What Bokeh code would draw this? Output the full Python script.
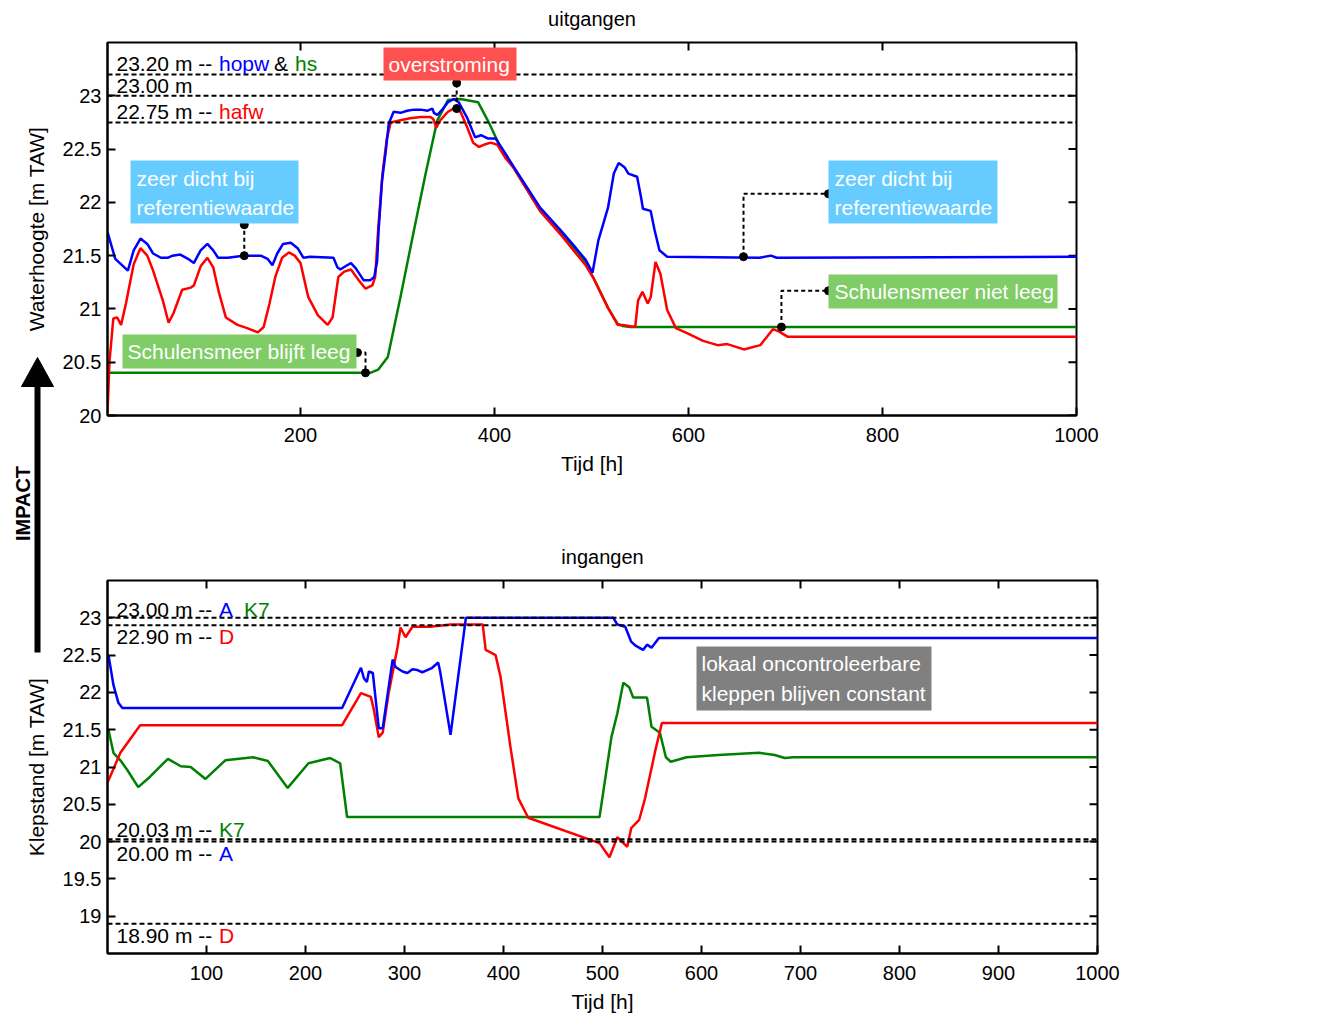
import math
from bokeh.plotting import figure
from bokeh.models import Span, Label, BoxAnnotation, FixedTicker, Range1d
from bokeh.core.properties import value
from bokeh.embed import file_html
from bokeh.resources import INLINE

FONT = "Liberation Sans"
BLUE, GREEN, RED = "#0000ff", "#008000", "#ff0000"

# ---------------- data: uitgangen (water levels) ----------------
hopw_t = [1, 9, 22, 28, 35, 42, 48, 56, 63, 68, 76, 84, 90, 97, 104, 110, 115, 125, 141, 159,
          166, 171, 176, 182, 190, 197, 203, 210, 234, 238, 241, 248, 252, 257, 265, 272, 276, 279, 280.5, 284,
          288, 291, 296, 303, 310, 317, 324, 331, 336, 337.5, 341, 347, 352, 358, 363, 372, 380, 386, 393, 401,
          409, 420, 447, 468, 484, 494, 501, 507, 517, 523, 528, 534, 538, 547, 551, 553, 561, 565, 570, 578,
          673, 685, 691, 1000]
hopw_h = [21.72, 21.47, 21.36, 21.55, 21.66, 21.61, 21.52, 21.48, 21.48, 21.50, 21.51, 21.47, 21.43, 21.55, 21.61, 21.55, 21.48, 21.48, 21.50, 21.50,
          21.47, 21.41, 21.52, 21.61, 21.62, 21.57, 21.48, 21.49, 21.48, 21.39, 21.37, 21.41, 21.43, 21.38, 21.27, 21.27, 21.30, 21.45, 21.74, 22.20,
          22.49, 22.74, 22.85, 22.84, 22.86, 22.87, 22.87, 22.86, 22.88, 22.84, 22.82, 22.88, 22.94, 22.97, 22.94, 22.79, 22.61, 22.63, 22.60, 22.60,
          22.49, 22.33, 21.95, 21.74, 21.57, 21.46, 21.34, 21.64, 21.95, 22.27, 22.37, 22.33, 22.27, 22.24, 22.05, 21.94, 21.92, 21.74, 21.55, 21.49,
          21.48, 21.50, 21.48, 21.49]

hs_t = [1, 272, 280, 290, 303, 317, 329, 341, 352, 365, 383, 393, 406, 420, 447, 468, 484, 494, 502, 517, 527, 532, 540, 1000]
hs_h = [20.40, 20.40, 20.43, 20.55, 21.11, 21.74, 22.27, 22.77, 22.96, 22.97, 22.94, 22.77, 22.52, 22.32, 21.92, 21.71, 21.54, 21.43, 21.29, 21.01, 20.86, 20.84, 20.83, 20.83]

hafw_t = [1, 3, 7, 11, 15, 20, 28, 35, 42, 48, 58, 64, 69, 78, 87, 90, 97, 104, 110, 116,
          123, 135, 145, 156, 162, 168, 174, 181, 188, 194, 200, 208, 218, 228, 233, 239, 245, 252, 260, 267,
          274, 277, 280, 284.5, 289, 293, 303, 313, 324, 334, 337, 340, 344, 352, 358, 365, 372, 378, 384, 389,
          396, 403, 411, 420, 447, 468, 484, 494, 502, 517, 527, 532, 545, 548, 552.5, 558, 561, 566, 571, 578,
          587, 599, 615, 630, 640, 657, 674, 687, 693, 702, 1000]
hafw_h = [20.02, 20.50, 20.91, 20.92, 20.85, 21.05, 21.42, 21.57, 21.50, 21.36, 21.08, 20.87, 20.96, 21.18, 21.20, 21.22, 21.40, 21.48, 21.39, 21.15,
          20.92, 20.85, 20.82, 20.78, 20.83, 21.05, 21.30, 21.48, 21.53, 21.50, 21.43, 21.11, 20.94, 20.85, 20.92, 21.30, 21.35, 21.37, 21.27, 21.19,
          21.22, 21.30, 21.74, 22.27, 22.60, 22.75, 22.77, 22.79, 22.80, 22.80, 22.78, 22.70, 22.77, 22.85, 22.88, 22.85, 22.70, 22.56, 22.52, 22.54,
          22.56, 22.54, 22.42, 22.32, 21.92, 21.70, 21.52, 21.41, 21.29, 21.01, 20.85, 20.85, 20.83, 21.08, 21.16, 21.05, 21.11, 21.44, 21.33, 20.99,
          20.82, 20.77, 20.70, 20.66, 20.67, 20.62, 20.66, 20.81, 20.79, 20.74, 20.74]

# ---------------- data: ingangen (valve positions) ----------------
klepA_t = [1, 6, 11, 15, 237, 256, 259, 262, 264, 268, 274, 278, 288, 291, 298, 303, 308, 313, 318, 323,
           328, 334, 336, 346.5, 362, 511, 515, 523, 529, 533, 537, 541, 545, 549.5, 557, 1000]
klepA_h = [22.50, 22.10, 21.86, 21.79, 21.79, 22.33, 22.19, 22.14, 22.28, 22.26, 21.52, 21.52, 22.44, 22.34, 22.28, 22.26, 22.31, 22.30, 22.27, 22.30,
           22.33, 22.40, 22.28, 21.43, 23.00, 23.00, 22.91, 22.88, 22.68, 22.63, 22.60, 22.57, 22.64, 22.60, 22.73, 22.73]

klepK7_t = [1, 6, 13, 20, 31, 43, 61, 74, 84, 99, 119, 147, 162, 182, 203, 225, 235, 242, 497, 509,
            515, 521, 527, 531, 545, 549.5, 558, 564, 569, 585, 617, 658, 674, 684, 693, 1000]
klepK7_h = [21.50, 21.19, 21.09, 20.96, 20.73, 20.87, 21.11, 21.01, 21.00, 20.84, 21.09, 21.13, 21.08, 20.72, 21.05, 21.12, 21.05, 20.33, 20.33, 21.40,
            21.72, 22.13, 22.07, 21.93, 21.93, 21.54, 21.46, 21.13, 21.07, 21.13, 21.16, 21.19, 21.16, 21.12, 21.13, 21.13]

klepD_t = [0, 13, 33, 237, 256, 266, 269, 274, 278, 284, 293, 296, 301, 308, 326, 346.5, 379, 382, 392, 397,
           407, 415, 425, 497, 507, 515, 525, 529, 537, 543, 553.5, 560, 1000]
klepD_h = [20.79, 21.19, 21.56, 21.56, 21.99, 21.94, 21.77, 21.40, 21.46, 21.99, 22.61, 22.87, 22.74, 22.88, 22.88, 22.91, 22.91, 22.57, 22.50, 22.21,
           21.27, 20.58, 20.32, 19.98, 19.79, 20.06, 19.93, 20.18, 20.29, 20.58, 21.23, 21.59, 21.59]

# ticks and reference levels
top_xticks = [200, 400, 600, 800, 1000]
top_yticks = [20, 20.5, 21, 21.5, 22, 22.5, 23]
bot_xticks = [100, 200, 300, 400, 500, 600, 700, 800, 900, 1000]
bot_yticks = [19, 19.5, 20, 20.5, 21, 21.5, 22, 22.5, 23]
top_refs = [23.20, 23.00, 22.75]
bot_refs = [23.00, 22.90, 20.03, 20.00, 18.90]

# annotation connectors (data coordinates)
top_conn = [
    ([142, 142], [21.50, 21.79]),
    ([361, 361], [22.88, 23.12]),
    ([258.7, 267, 267], [20.59, 20.59, 20.40]),
    ([656.7, 656.7, 744.3], [21.49, 22.08, 22.08]),
    ([695.8, 695.8, 744.3], [20.83, 21.17, 21.17]),
]

TX, TY = (1, 1000), (20, 23.5)
BX, BY = (0, 1000), (18.5, 23.5)
TOP_FRAME = (107, 1076, 42, 415)     # left, right, top, bottom (page px)
BOT_FRAME = (107, 1097, 580, 953)


def make_conv(xr, yr, fr):
    l, r, t, b = fr
    fx = lambda px: xr[0] + (px - l) * (xr[1] - xr[0]) / float(r - l)
    fy = lambda py: yr[0] + (b - py) * (yr[1] - yr[0]) / float(b - t)
    return fx, fy


tx, ty = make_conv(TX, TY, TOP_FRAME)
bx, by = make_conv(BX, BY, BOT_FRAME)

W = 1329
TITLE_BORDER = 52


def make_fig(title, fr, page_bottom, xr, yr, xticks, yticks, ylabel, conv):
    l, r, t, b = fr
    page_top = t - TITLE_BORDER
    h = page_bottom - page_top
    p = figure(width=W, height=h, x_range=Range1d(*xr), y_range=Range1d(*yr),
               output_backend="svg", toolbar_location=None,
               min_border_left=l, min_border_right=W - r,
               min_border_top=TITLE_BORDER, min_border_bottom=page_bottom - b)
    p.styles = {"position": "absolute", "left": "0px", "top": "%dpx" % page_top}
    p.title.text = title
    p.title.align = "center"
    p.title.text_font = FONT
    p.title.text_font_size = "20px"
    p.title.text_font_style = "normal"
    p.title.text_color = "black"
    p.title.standoff = 25
    p.grid.visible = False
    p.outline_line_color = "black"
    p.outline_line_width = 2
    p.xaxis.ticker = FixedTicker(ticks=xticks)
    p.yaxis.ticker = FixedTicker(ticks=yticks)
    p.yaxis.major_label_overrides = {tk: ("%g" % tk) for tk in yticks}
    p.xaxis.axis_label = "Tijd [h]"
    p.yaxis.axis_label = ylabel
    for ax in p.axis:
        ax.axis_line_width = 2
        ax.axis_line_color = "black"
        ax.major_tick_in = 8
        ax.major_tick_out = 0
        ax.major_tick_line_width = 2
        ax.major_tick_line_color = "black"
        ax.minor_tick_line_color = None
        ax.major_label_text_font = FONT
        ax.major_label_text_font_size = "20px"
        ax.major_label_text_color = "black"
        ax.axis_label_text_font = FONT
        ax.axis_label_text_font_size = "21px"
        ax.axis_label_text_font_style = "normal"
        ax.axis_label_text_color = "black"
    p.xaxis.major_label_standoff = 12
    p.xaxis.axis_label_standoff = 7
    p.yaxis.major_label_standoff = 6
    p.yaxis.axis_label_standoff = 12
    # mirrored inward ticks on top and right frame edges
    fx, fy = conv
    dy = fy(b - 8) - fy(b)
    dx = fx(l + 8) - fx(l)
    p.segment(x0=xticks, y0=[yr[1]] * len(xticks), x1=xticks, y1=[yr[1] - dy] * len(xticks),
              line_color="black", line_width=2)
    p.segment(x0=[xr[1]] * len(yticks), y0=yticks, x1=[xr[1] - dx] * len(yticks), y1=yticks,
              line_color="black", line_width=2)
    return p


def txt(p, x, y, s, color="black", size="21px", align="left", baseline="middle"):
    p.add_layout(Label(x=x, y=y, text=s, text_color=color, text_font=FONT, text_font_size=size,
                       text_align=align, text_baseline=baseline))


def box(p, l, r, t, b, color):
    p.add_layout(BoxAnnotation(left=l, right=r, top=t, bottom=b, fill_color=color, fill_alpha=1,
                               line_color=None))


# ================= top figure =================
p1 = make_fig("uitgangen", TOP_FRAME, 545, TX, TY, top_xticks, top_yticks,
              "Waterhoogte [m TAW]", (tx, ty))
for v in top_refs:
    p1.add_layout(Span(location=v, dimension="width", line_color="black", line_dash="5 3", line_width=2))

p1.line(hs_t, hs_h, line_color=GREEN, line_width=2.5)
p1.line(hafw_t, hafw_h, line_color=RED, line_width=2.5)
p1.line(hopw_t, hopw_h, line_color=BLUE, line_width=2.5)

for xs, ys in top_conn:
    p1.line(xs, ys, line_color="black", line_width=2, line_dash="4 3")
    p1.scatter([xs[0], xs[-1]], [ys[0], ys[-1]], size=8, color="black")

txt(p1, tx(116), ty(63), "23.20 m -- ")
txt(p1, tx(218.5), ty(63), "hopw", BLUE)
txt(p1, tx(273.5), ty(63), "&")
txt(p1, tx(294.5), ty(63), "hs", GREEN)
txt(p1, tx(116), ty(85), "23.00 m")
txt(p1, tx(116), ty(111), "22.75 m -- ")
txt(p1, tx(218.5), ty(111), "hafw", RED)

box(p1, tx(130), tx(298), ty(160), ty(223), "#66ccff")
txt(p1, tx(136), ty(178), "zeer dicht bij", "white")
txt(p1, tx(136), ty(207), "referentiewaarde", "white")
box(p1, tx(383), tx(516), ty(47), ty(80), "#ff5050")
txt(p1, tx(388), ty(64), "overstroming", "white")
box(p1, tx(122), tx(356), ty(334), ty(368), "#80cc66")
txt(p1, tx(127), ty(351), "Schulensmeer blijft leeg", "white")
box(p1, tx(828), tx(997), ty(160), ty(223), "#66ccff")
txt(p1, tx(834), ty(178), "zeer dicht bij", "white")
txt(p1, tx(834), ty(207), "referentiewaarde", "white")
box(p1, tx(828), tx(1057), ty(274), ty(308), "#80cc66")
txt(p1, tx(834), ty(291), "Schulensmeer niet leeg", "white")

txt(p1, tx(1092), ty(60), "Demer stroomopwaarts", BLUE)
txt(p1, tx(1092), ty(90), "(hopw)", BLUE)
txt(p1, tx(1092), ty(124), "Schulensmeer", GREEN)
txt(p1, tx(1092), ty(154), "(hs)", GREEN)
txt(p1, tx(1092), ty(188), "Demer stroomafwaarts", RED)
txt(p1, tx(1092), ty(218), "(hafw)", RED)

# ================= bottom figure =================
p2 = make_fig("ingangen", BOT_FRAME, 1016, BX, BY, bot_xticks, bot_yticks,
              "Klepstand [m TAW]", (bx, by))
for v in bot_refs:
    p2.add_layout(Span(location=v, dimension="width", line_color="black", line_dash="5 3", line_width=2))

p2.line(klepK7_t, klepK7_h, line_color=GREEN, line_width=2.5)
p2.line(klepD_t, klepD_h, line_color=RED, line_width=2.5)
p2.line(klepA_t, klepA_h, line_color=BLUE, line_width=2.5)

txt(p2, bx(116), by(609), "23.00 m -- ")
txt(p2, bx(218.5), by(609), "A", BLUE)
txt(p2, bx(243.5), by(609), "K7", GREEN)
txt(p2, bx(116), by(636), "22.90 m -- ")
txt(p2, bx(218.5), by(636), "D", RED)
txt(p2, bx(116), by(829), "20.03 m -- ")
txt(p2, bx(218.5), by(829), "K7", GREEN)
txt(p2, bx(116), by(853), "20.00 m -- ")
txt(p2, bx(218.5), by(853), "A", BLUE)
txt(p2, bx(116), by(935), "18.90 m -- ")
txt(p2, bx(218.5), by(935), "D", RED)

box(p2, bx(696), bx(931), by(646), by(710), "#808080")
txt(p2, bx(701), by(663), "lokaal oncontroleerbare", "white")
txt(p2, bx(701), by(693), "kleppen blijven constant", "white")

txt(p2, bx(1112), by(603), "klep A", BLUE)
txt(p2, bx(1112), by(633), "klep K7", GREEN)
txt(p2, bx(1112), by(663), "klep D", RED)

# ================= IMPACT arrow (small overlay figure in page pixel units) =================
pl = figure(width=60, height=320, x_range=Range1d(0, 60), y_range=Range1d(665, 345),
            output_backend="svg", toolbar_location=None, x_axis_type=None, y_axis_type=None,
            min_border=0, min_border_left=0, min_border_right=0, min_border_top=0, min_border_bottom=0)
pl.styles = {"position": "absolute", "left": "0px", "top": "345px"}
pl.grid.visible = False
pl.outline_line_color = None
pl.background_fill_alpha = 0
pl.border_fill_alpha = 0
pl.segment(x0=[37], y0=[383], x1=[37], y1=[652], line_color="black", line_width=6)
pl.patch([21, 53, 37], [386, 386, 357], color="black")
pl.text(x=[22], y=[503], text=["IMPACT"], angle=math.pi / 2, text_align="center",
        text_baseline="middle", text_font=value(FONT), text_font_size="20px",
        text_font_style="bold", text_color="black")

open("out.html", "w").write(file_html([p1, p2, pl], INLINE))
